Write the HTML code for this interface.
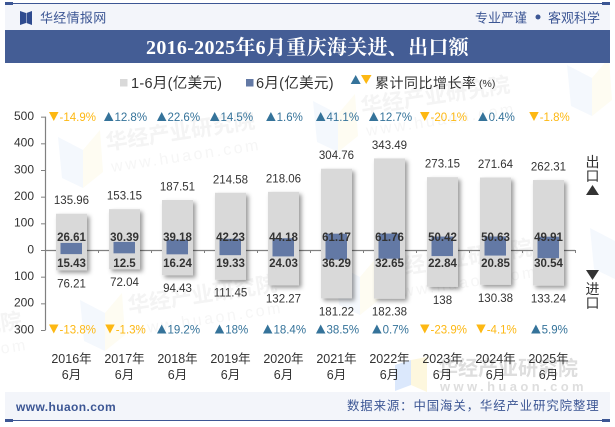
<!DOCTYPE html>
<html>
<head>
<meta charset="utf-8">
<style>
html,body{margin:0;padding:0;background:#fff;width:615px;height:427px;overflow:hidden}
svg{display:block}
text{font-family:"Liberation Sans","Noto Sans CJK SC",sans-serif;fill:#333}
.wm-title{font-size:21.5px;font-weight:700;fill:#f4f4f4}
.wm-url{font-size:16px;letter-spacing:2.6px;fill:#f6f6f6}
</style>
</head>
<body>
<svg id="chart" width="615" height="427" viewBox="0 0 615 427" xmlns="http://www.w3.org/2000/svg">
<defs>
<filter id="bar-shadow" x="-30%" y="-10%" width="170%" height="125%"><feDropShadow dx="2.5" dy="2.5" stdDeviation="2" flood-color="#000" flood-opacity="0.4"/></filter>
<g id="wm-logo"><polygon points="0,0 25,13 25,51 4,41" fill="#f4f8fd"/><polygon points="25,13 42,-7 45,35 25,51" fill="#fefcf2"/></g>
</defs>
<rect width="615" height="427" fill="#fff"/>
<g>
<g transform="translate(58 137)"><use href="#wm-logo"/><text class="wm-title" transform="translate(49 13) rotate(-8.5)">华经产业研究院</text><text class="wm-url" transform="translate(54 35) rotate(-8.5)">www.huaon.com</text></g>
<g transform="translate(313 101)"><use href="#wm-logo"/><text class="wm-title" transform="translate(49 13) rotate(-8.5)">华经产业研究院</text><text class="wm-url" transform="translate(54 35) rotate(-8.5)">www.huaon.com</text></g>
<g transform="translate(567 65)"><use href="#wm-logo"/></g>
<g transform="translate(-175 337)"><text class="wm-title" transform="translate(49 13) rotate(-8.5)">华经产业研究院</text><text class="wm-url" transform="translate(54 35) rotate(-8.5)">www.huaon.com</text></g>
<g transform="translate(80 300)"><use href="#wm-logo"/><text class="wm-title" transform="translate(49 13) rotate(-8.5)">华经产业研究院</text><text class="wm-url" transform="translate(54 35) rotate(-8.5)">www.huaon.com</text></g>
<g transform="translate(335 264)"><use href="#wm-logo"/><text class="wm-title" transform="translate(49 13) rotate(-8.5)">华经产业研究院</text><text class="wm-url" transform="translate(54 35) rotate(-8.5)">www.huaon.com</text></g>
<g transform="translate(590 228)"><use href="#wm-logo"/></g>
<polygon points="395,365 411,360 411,385 395,391" fill="#dbe8fc"/>
<polygon points="411,360 427,357 427,392 411,385" fill="#fdf7de"/>
<text x="438" y="375" font-size="20" font-weight="700" style="fill:#dedede">华经产业研究院</text>
<text x="440" y="391" font-size="13" font-weight="700" letter-spacing="3.4" style="fill:#dedede">www.huaon.com</text>
</g>

<rect x="5" y="4" width="605" height="26" fill="#f3f5fa"/>
<rect x="5" y="3" width="605" height="1" fill="#3c5694"/>
<rect x="5" y="2" width="8" height="3" fill="#3c5694"/>
<rect x="602" y="2" width="8" height="3" fill="#3c5694"/>
<polygon points="20,11 26,13 26,23 20,25" fill="#2f4b8f"/>
<polygon points="32,11 26.5,13 26.5,23 32,25" fill="#2f4b8f"/>
<text x="40" y="22.5" font-size="13" letter-spacing="0.3" style="fill:#3c5694">华经情报网</text>
<text x="475" y="22.5" font-size="13" style="fill:#3c5694">专业严谨</text>
<circle cx="538" cy="17" r="2.5" fill="#3c5694"/>
<text x="548" y="22.5" font-size="13" style="fill:#3c5694">客观科学</text>
<rect x="5" y="30" width="605" height="33" fill="#445d95"/>
<text x="307.5" y="54" text-anchor="middle" font-size="20" font-weight="700" letter-spacing="0.3" style="font-family:'Liberation Serif','Noto Serif CJK SC',serif;fill:#fff">2016-2025年6月重庆海关进、出口额</text>

<g>
<rect x="120" y="79" width="7.5" height="7.5" fill="#d9d9d9"/>
<text x="131" y="88" font-size="14.5" letter-spacing="0.3">1-6月(亿美元)</text>
<rect x="246" y="79" width="7.5" height="7.5" fill="#6379a5"/>
<text x="256" y="88" font-size="14.5" letter-spacing="0.3">6月(亿美元)</text>
<polygon points="350.7,84 360.7,84 355.7,75" fill="#35739a"/>
<polygon points="361,75 371.5,75 366.2,84" fill="#fdb813"/>
<text x="375" y="88" font-size="14" letter-spacing="0.5">累计同比增长率</text>
<text x="479" y="87" font-size="10.5">(%)</text>
</g>

<g id="axes"></g>
<g id="bars"></g>
<g id="labels"></g>

<g>
<text x="592.5" y="167" text-anchor="middle" font-size="14">出</text>
<text x="592.5" y="181" text-anchor="middle" font-size="14">口</text>
<polygon points="586,195 599,195 592.5,185" fill="#333"/>
</g>
<g>
<polygon points="586,270 599,270 592.5,280" fill="#333"/>
<text x="592.5" y="294" text-anchor="middle" font-size="14">进</text>
<text x="592.5" y="308" text-anchor="middle" font-size="14">口</text>
</g>

<rect x="5" y="392" width="605" height="28" fill="#f3f5fa"/>
<rect x="5" y="420" width="605" height="1" fill="#3c5694"/>
<rect x="5" y="419" width="8" height="3" fill="#3c5694"/>
<rect x="602" y="419" width="8" height="3" fill="#3c5694"/>
<text x="16" y="411" font-size="12" font-weight="700" letter-spacing="0.4" style="fill:#3c5694">www.huaon.com</text>
<text x="347" y="410" font-size="12.4" letter-spacing="0.9" style="fill:#3c5694">数据来源：中国海关，华经产业研究院整理</text>
</svg>
<script>
var categories = ["2016年","2017年","2018年","2019年","2020年","2021年","2022年","2023年","2024年","2025年"];
var exportYtd = [135.96,153.15,187.51,214.58,218.06,304.76,343.49,273.15,271.64,262.31];
var exportJune = [26.61,30.39,39.18,42.23,44.18,61.17,61.76,50.42,50.63,49.91];
var importYtd = [76.21,72.04,94.43,111.45,132.27,181.22,182.38,138,130.38,133.24];
var importJune = [15.43,12.5,16.24,19.33,24.03,36.29,32.65,22.84,20.85,30.54];
var exportGrowth = [-14.9,12.8,22.6,14.5,1.6,41.1,12.7,-20.1,0.4,-1.8];
var importGrowth = [-13.8,-1.3,19.2,18,18.4,38.5,0.7,-23.9,-4.1,5.9];
var yTicks = [500,400,300,200,100,0,-100,-200,-300];

var NS = "http://www.w3.org/2000/svg";
function yPos(v){ return 250 - v * 0.2667; }
function xBand(i){ return 45 + 53 * i; }
function xCenter(i){ return xBand(i) + 26.5; }
function make(tag, parent, attrs){
  var el = document.createElementNS(NS, tag);
  for (var k in attrs) el.setAttribute(k, attrs[k]);
  parent.appendChild(el);
  return el;
}
var axes = document.getElementById("axes");
var bars = document.getElementById("bars");
var labels = document.getElementById("labels");

function addText(parent, x, y, str, size, extra){
  var attrs = {x:x, y:y, "text-anchor":"middle", "font-size":size};
  for (var k in extra) attrs[k] = extra[k];
  var t = make("text", parent, attrs);
  t.textContent = str;
  return t;
}

var yLine = make("line", axes, {x1:45.5, x2:45.5, y1:yPos(500), y2:yPos(-300), stroke:"#808080", "stroke-width":1.2});


var xLine = make("line", axes, {x1:45, x2:xBand(categories.length), y1:250.5, y2:250.5, stroke:"#808080", "stroke-width":1.2});



yTicks.forEach(function(v){
  var tick = make("line", axes, {x1:41, x2:45.5, y1:yPos(v)+0.5, y2:yPos(v)+0.5, stroke:"#808080", "stroke-width":1});
  
  
  var lab = addText(axes, 34, yPos(v)+3.3, String(Math.abs(v)), 12, {"text-anchor":"end"});
  
  
});

function drawGrowth(v, cx, baseline){
  var up = v >= 0, col = up ? "#35739a" : "#fdb813";
  var t = addText(labels, 0, baseline, v + "%", 11.5, {"text-anchor":"start"});
  t.setAttribute('style', 'fill:' + col);
  
  
  var w = t.getComputedTextLength();
  var left = cx + 1 - (w + 10.5) / 2;
  t.setAttribute('x', left + 10.5);
  var top = baseline - 9, bot = baseline;
  var pts = up
    ? [left, bot, left + 9.5, bot, left + 4.75, top]
    : [left, top, left + 9.5, top, left + 4.75, bot];
  var tri = make("polygon", labels, {points: pts.join(","), fill: col});
  
  
}

categories.forEach(function(c, i){
  var tick = make("line", axes, {x1:xBand(i+1)+0.5, x2:xBand(i+1)+0.5, y1:250, y2:253, stroke:"#808080", "stroke-width":1});
  
  
  var cx = xCenter(i);
  var yr = addText(axes, cx, 363, c, 12.5, {});
  
  
  var mo = addText(axes, cx, 379, "6月", 12.5, {});
  
  

  var yt = yPos(exportYtd[i]), yb = yPos(-importYtd[i]);
  var totalBar = make("rect", bars, {x:cx-15.5, y:yt, width:31, height:yb-yt, fill:"#d9d9d9", filter:"url(#bar-shadow)"});
  
  

  var jt = yPos(exportJune[i]), jb = yPos(-importJune[i]);
  var juneBar = make("rect", bars, {x:cx-11, y:jt, width:21.5, height:jb-jt, fill:"#6379a5"});
  
  

  var a = addText(labels, cx, yt-9.5, String(exportYtd[i]), 11.5, {});
  
  
  var b = addText(labels, cx, yb+17, String(importYtd[i]), 11.5, {});
  
  
  var d = addText(labels, cx, 241, String(exportJune[i]), 11.5, {"font-weight":700});
  
  
  var e = addText(labels, cx, 267, String(importJune[i]), 11.5, {"font-weight":700});
  
  

  drawGrowth(exportGrowth[i], cx, 121);
  drawGrowth(importGrowth[i], cx, 333.5);
});
</script>
</body>
</html>
